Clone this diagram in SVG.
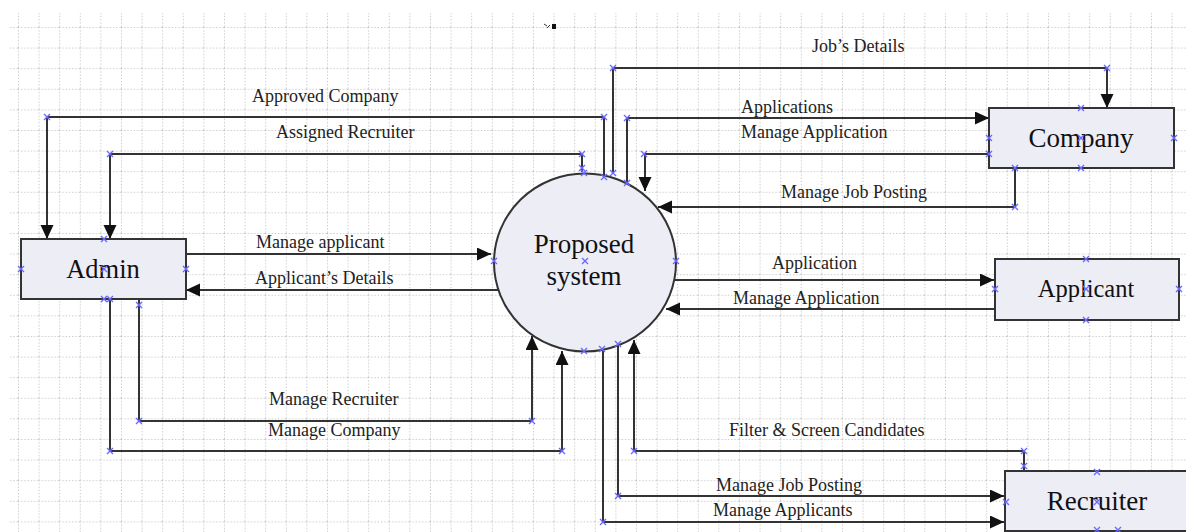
<svg xmlns="http://www.w3.org/2000/svg" width="1186" height="532" viewBox="0 0 1186 532">
<style>
.node{fill:#ededf6;stroke:#333;stroke-width:2}
.conn{fill:none;stroke:#333;stroke-width:2}
.lbl{font-family:"Liberation Serif","Times New Roman",serif;font-size:18px;fill:#222}
.ntx{font-family:"Liberation Serif","Times New Roman",serif;font-size:27px;fill:#111;text-anchor:middle}
.gl{stroke:#c4c4c4;stroke-width:1;stroke-dasharray:1.2 2}
</style>
<defs>
<pattern id="grid" patternUnits="userSpaceOnUse" x="18" y="27" width="20.6" height="20.6">
<line class="gl" x1="0" y1="0.5" x2="20.6" y2="0.5"/>
<line class="gl" x1="0.5" y1="0" x2="0.5" y2="20.6"/>
</pattern>
<marker id="ah" markerUnits="userSpaceOnUse" markerWidth="14" markerHeight="14" refX="14" refY="6.5" orient="auto">
<path d="M0,0 L14,6.5 L0,13 Z" fill="#111"/>
</marker>
<path id="xm" d="M-3,-3 L3,3 M-3,3 L3,-3" stroke="#6a6aff" stroke-width="1.4" fill="none"/>
</defs>
<rect x="0" y="0" width="1186" height="532" fill="#fff"/>
<rect x="10" y="13" width="1176" height="519" fill="url(#grid)"/>
<g id="artifact">
<path d="M544,24 L547,26 M547,28 L550,25" stroke="#333" stroke-width="1" fill="none"/>
<rect x="552" y="24" width="4" height="5" fill="#111"/>
</g>
<g id="connectors">
<path class="conn" d="M604,176 V117 H47 V239" marker-end="url(#ah)"/>
<path class="conn" d="M582,172 V154 H110 V239" marker-end="url(#ah)"/>
<path class="conn" d="M613,173 V68 H1107 V108" marker-end="url(#ah)"/>
<path class="conn" d="M627,183 V118 H989" marker-end="url(#ah)"/>
<path class="conn" d="M989,154 H645 V191" marker-end="url(#ah)"/>
<path class="conn" d="M1015,168 V207 H658" marker-end="url(#ah)"/>
<path class="conn" d="M186,254 H491" marker-end="url(#ah)"/>
<path class="conn" d="M499,290 H186" marker-end="url(#ah)"/>
<path class="conn" d="M675,280 H994" marker-end="url(#ah)"/>
<path class="conn" d="M995,309 H666" marker-end="url(#ah)"/>
<path class="conn" d="M139,299 V421 H532 V336" marker-end="url(#ah)"/>
<path class="conn" d="M110,299 V451 H562 V351" marker-end="url(#ah)"/>
<path class="conn" d="M1024,471 V451 H634 V340" marker-end="url(#ah)"/>
<path class="conn" d="M618,344 V496 H1004" marker-end="url(#ah)"/>
<path class="conn" d="M603,349 V522 H1004" marker-end="url(#ah)"/>
<text class="lbl" x="812" y="52">Job’s Details</text>
<text class="lbl" x="252" y="102">Approved Company</text>
<text class="lbl" x="276" y="138">Assigned Recruiter</text>
<text class="lbl" x="741" y="113">Applications</text>
<text class="lbl" x="741" y="138">Manage Application</text>
<text class="lbl" x="781" y="198">Manage Job Posting</text>
<text class="lbl" x="256" y="248">Manage applicant</text>
<text class="lbl" x="255" y="284">Applicant’s Details</text>
<text class="lbl" x="772" y="269">Application</text>
<text class="lbl" x="733" y="304">Manage Application</text>
<text class="lbl" x="269" y="405">Manage Recruiter</text>
<text class="lbl" x="268" y="436">Manage Company</text>
<text class="lbl" x="729" y="436">Filter &amp; Screen Candidates</text>
<text class="lbl" x="716" y="491">Manage Job Posting</text>
<text class="lbl" x="713" y="516">Manage Applicants</text>
</g>
<g id="admin">
<rect class="node" x="21" y="239" width="165" height="60"/>
<text class="ntx" x="103" y="278" style="font-size:26.5px">Admin</text>
</g>
<g id="proposed-system">
<ellipse class="node" cx="585" cy="262.5" rx="91" ry="89"/>
<text class="ntx" x="584" y="253">Proposed</text>
<text class="ntx" x="584" y="285">system</text>
</g>
<g id="company">
<rect class="node" x="989" y="108" width="185" height="60"/>
<text class="ntx" x="1081" y="147">Company</text>
</g>
<g id="applicant">
<rect class="node" x="995" y="259" width="184" height="61"/>
<text class="ntx" x="1086" y="297" style="font-size:24.5px">Applicant</text>
</g>
<g id="recruiter">
<rect class="node" x="1005" y="471" width="184" height="60"/>
<text class="ntx" x="1097" y="510">Recruiter</text>
</g>
<g id="markers">
<use href="#xm" x="47" y="117"/><use href="#xm" x="110" y="154"/>
<use href="#xm" x="604" y="117"/><use href="#xm" x="582" y="154"/>
<use href="#xm" x="582" y="168"/><use href="#xm" x="584" y="173"/>
<use href="#xm" x="604" y="177"/><use href="#xm" x="613" y="173"/>
<use href="#xm" x="613" y="68"/><use href="#xm" x="1107" y="68"/>
<use href="#xm" x="627" y="118"/><use href="#xm" x="627" y="183"/>
<use href="#xm" x="644" y="154"/><use href="#xm" x="989" y="154"/>
<use href="#xm" x="1081" y="108"/><use href="#xm" x="989" y="138"/>
<use href="#xm" x="1081" y="138"/><use href="#xm" x="1174" y="138"/>
<use href="#xm" x="1081" y="168"/><use href="#xm" x="1015" y="168"/>
<use href="#xm" x="1015" y="207"/>
<use href="#xm" x="104" y="239"/><use href="#xm" x="21" y="269"/>
<use href="#xm" x="104" y="269"/><use href="#xm" x="186" y="269"/>
<use href="#xm" x="104" y="299"/><use href="#xm" x="110" y="299"/>
<use href="#xm" x="139" y="305"/>
<use href="#xm" x="494" y="261"/><use href="#xm" x="585" y="261"/>
<use href="#xm" x="676" y="261"/>
<use href="#xm" x="584" y="351"/><use href="#xm" x="602" y="349"/>
<use href="#xm" x="618" y="344"/>
<use href="#xm" x="1086" y="259"/><use href="#xm" x="995" y="289"/>
<use href="#xm" x="1086" y="289"/><use href="#xm" x="1179" y="289"/>
<use href="#xm" x="1086" y="320"/>
<use href="#xm" x="1097" y="472"/><use href="#xm" x="1006" y="502"/>
<use href="#xm" x="1097" y="502"/><use href="#xm" x="1097" y="530"/>
<use href="#xm" x="1118" y="530"/>
<use href="#xm" x="1024" y="451"/><use href="#xm" x="1024" y="466"/>
<use href="#xm" x="139" y="421"/><use href="#xm" x="532" y="421"/>
<use href="#xm" x="110" y="451"/><use href="#xm" x="562" y="451"/>
<use href="#xm" x="634" y="451"/><use href="#xm" x="618" y="496"/>
<use href="#xm" x="603" y="522"/>
</g>
</svg>
